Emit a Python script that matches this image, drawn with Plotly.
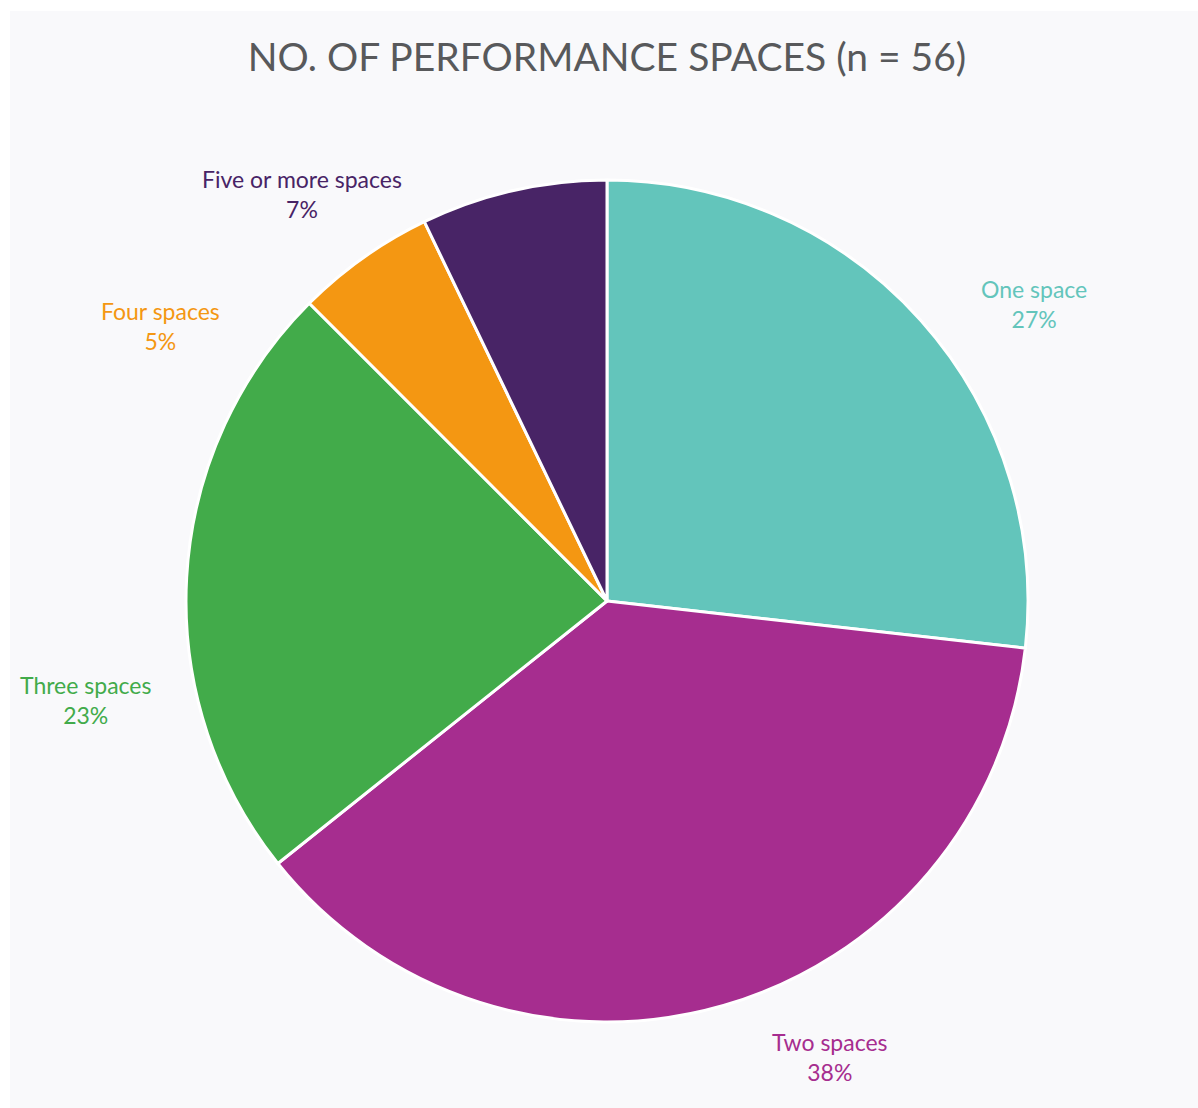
import math
import plotly.graph_objects as go

# Survey responses: number of performance spaces per venue (n = 56)
categories = ["One space", "Two spaces", "Three spaces", "Four spaces", "Five or more spaces"]
counts = [15, 21, 13, 3, 4]
colors = ["#63c5bb", "#a62d8f", "#42ab4a", "#f49712", "#482466"]

# Label placement: angular nudge (degrees) from the slice mid-angle and distance (px) from centre
label_nudge = [7, -10, -14, -23, -24]
label_dist = [520, 508, 531, 525, 509]

W, H = 1198, 1108
L, R, T, B = 186, 170, 180, 86
plot_w = W - L - R
plot_h = H - T - B
font_family = "Futura, 'Century Gothic', Lato, sans-serif"

total = sum(counts)

fig = go.Figure(
    go.Pie(
        labels=categories,
        values=counts,
        sort=False,
        direction="clockwise",
        rotation=0,
        marker=dict(colors=colors, line=dict(color="white", width=3)),
        textinfo="none",
        hoverinfo="label+percent",
        showlegend=False,
    )
)

annotations = []
cum = 0
for cat, val, col, nudge, dist in zip(categories, counts, colors, label_nudge, label_dist):
    mid = (cum + val / 2) / total * 360
    cum += val
    theta = math.radians(mid + nudge)
    ax = 0.5 + dist * math.sin(theta) / plot_w
    ay = 0.5 + dist * math.cos(theta) / plot_h
    pct = round(val / total * 100)
    annotations.append(
        dict(
            x=ax, y=ay, xref="paper", yref="paper",
            text=f"{cat}<br>{pct}%",
            showarrow=False,
            xanchor="center", yanchor="middle",
            align="center",
            font=dict(family=font_family, size=23, color=col),
        )
    )

fig.update_layout(
    width=W,
    height=H,
    margin=dict(l=L, r=R, t=T, b=B),
    paper_bgcolor="white",
    plot_bgcolor="white",
    title=dict(
        text=f"NO. OF PERFORMANCE SPACES (n = {total})",
        x=0.5, xref="paper", xanchor="center",
        y=1 - 57 / H, yref="container", yanchor="middle",
        font=dict(family=font_family, size=39, color="#58595b"),
    ),
    annotations=annotations,
    shapes=[
        dict(
            type="rect", xref="paper", yref="paper",
            x0=(10 - L) / plot_w, x1=(W - L + 2) / plot_w,
            y0=(H - B - H - 2) / plot_h, y1=(H - B - 11) / plot_h,
            fillcolor="#f9f9fb", line=dict(width=0), layer="below",
        )
    ],
)

fig.write_html("out.html")
